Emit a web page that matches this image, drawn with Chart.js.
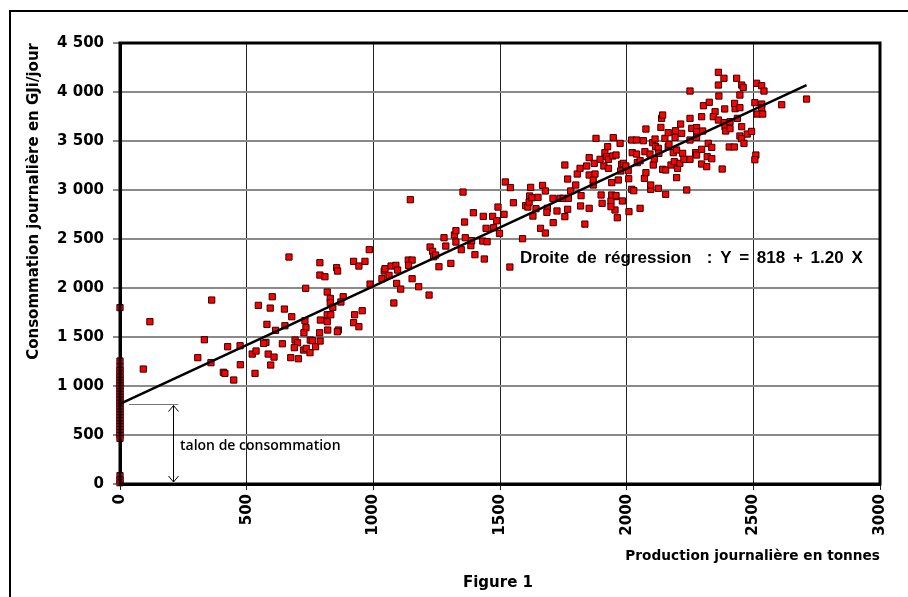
<!DOCTYPE html>
<html>
<head>
<meta charset="utf-8">
<script src="https://cdn.jsdelivr.net/npm/chart.js@4.4.0/dist/chart.umd.min.js"></script>
<style>
  html, body { margin: 0; padding: 0; background: #fff; overflow: hidden; }
  #frame { position: absolute; left: 9px; top: 10px; width: 1000px; height: 1000px;
           border-left: 2px solid #000; border-top: 2px solid #000; }
  #wrap { position: absolute; left: 0; top: 0; width: 908px; height: 597px; }
</style>
</head>
<body>
<div id="frame"></div>
<div id="wrap"><canvas id="chart" width="908" height="597"></canvas></div>
<script>
// Production journalière (tonnes) / consommation (GJ/jour)
const prodX = [
  // jours sans production
  0, 0, 0, 0, 0, 0, 0, 0, 0, 0, 0, 0, 0, 0, 0, 0, 0, 0, 0, 0, 0, 0, 0, 0, 0, 0, 0, 0, 0, 0,
  // 0 - 850 t
  118, 362, 92, 333, 307, 359, 425, 474, 408, 414, 449, 475, 522, 537, 533, 546, 601, 593, 580, 614,
  576, 567, 585, 608, 595, 649, 678, 651, 641, 674, 704, 733, 730, 734, 726, 691, 701, 688, 725, 735,
  750, 751, 759, 772, 790, 788, 791, 818, 818, 832, 818, 830, 830, 840, 820, 667,
  // 850 - 1750 t
  789, 789, 809, 855, 859, 922, 943, 967, 984, 881, 872, 862, 858, 926, 922, 943, 956, 987, 1034, 1043,
  1046, 1062, 1070, 1089, 1096, 1092, 1108, 1081, 1138, 1153, 1139, 1153, 1179, 1146, 1220, 1224, 1234, 1238, 1246, 1259,
  1279, 1286, 1306, 1320, 1326, 1326, 1347, 1363, 1360, 1395, 1354, 1385, 1388, 1401, 1438, 1434, 1445, 1432, 1449, 1471,
  1475, 1487, 1492, 1498, 1516, 1521, 1541, 1553, 1539, 1589, 1601, 1610, 1621, 1617, 1615, 1626, 1630, 1642, 1650, 1660,
  1679, 1668, 1679, 1687, 1685, 1709, 1710, 1725, 1737,
  // 1750 - 2250 t
  1756, 1767, 1779, 1756, 1767, 1750, 1770, 1799, 1805, 1816, 1820, 1818, 1835, 1852, 1842, 1852, 1872, 1868, 1879,
  1852, 1868, 1875, 1895, 1899, 1903, 1910, 1914, 1921, 1925, 1928, 1928, 1941, 1947, 1945, 1958, 1955, 1967, 1974, 1980,
  1983, 1976, 1963, 1954, 1938, 1938, 1941, 1958, 1987, 1997, 2006, 2008, 2009, 2020, 2022, 2020, 2028, 2039, 2039, 2042,
  2053, 2053, 2066, 2070, 2072, 2076, 2076, 2092, 2095, 2095, 2102, 2105, 2109, 2112, 2114, 2125, 2125, 2127, 2138, 2142,
  2135, 2142, 2151, 2154, 2154, 2164, 2164, 2167, 2175, 2184, 2188, 2191, 2193, 2197, 2197, 2201, 2213, 2210, 2217, 2221,
  2226, 2237,
  // 2250 t et plus
  2250, 2250, 2257, 2276, 2276, 2300, 2276, 2250, 2250, 2272, 2276, 2296, 2296, 2316, 2322, 2318, 2336, 2336, 2303, 2326,
  2296, 2349, 2342, 2362, 2385, 2388, 2391, 2408, 2408, 2364, 2362, 2362, 2384, 2387, 2428, 2426, 2447, 2447, 2454, 2460,
  2434, 2437, 2454, 2447, 2454, 2463, 2476, 2493, 2405, 2425, 2377, 2506, 2533, 2533, 2515, 2537, 2513, 2533, 2542, 2510,
  2506, 2612, 2710
];
const consoY = [
  1800, 1255, 1197, 1160, 1125, 1090, 1060, 1030, 1000, 975, 945, 915, 885, 855, 825, 795, 765, 735, 705, 675,
  645, 615, 585, 555, 525, 495, 465, 85, 40, 13,
  1656, 1877, 1173, 1472, 1289, 1238, 1401, 1411, 1140, 1129, 1061, 1217, 1326, 1357, 1129, 1823, 1911, 1795, 1629, 1568,
  1445, 1435, 1326, 1295, 1214, 1785, 1707, 1615, 1431, 1289, 1278, 1997, 1666, 1595, 1543, 1469, 1441, 1391, 1367, 1384,
  1340, 1469, 1462, 1401, 1459, 1543, 1673, 1656, 1727, 1727, 1959, 1894, 1850, 1803, 1571, 2316,
  2258, 2132, 2115, 2207, 2173, 2272, 2224, 2272, 2391, 1911, 1857, 1571, 1554, 1727, 1646, 1605, 1768, 2040, 2095, 2173,
  2197, 2129, 2224, 2231, 2183, 2047, 1989, 1847, 2285, 2285, 2231, 2095, 2013, 2901, 1928, 2418, 2374, 2319, 2336, 2217,
  2513, 2428, 2251, 2541, 2585, 2469, 2391, 2513, 2673, 2768, 2979, 2432, 2483, 2340, 2296, 2731, 2609, 2479, 2472, 2731,
  2615, 2686, 2826, 2558, 2752, 3082, 3024, 2870, 2214, 2503, 2840, 2826, 3027, 2939, 2877, 2921, 2734, 2809, 2925, 2609,
  2561, 3047, 2990, 2813, 2772, 2915, 2667, 2786, 2915,
  3255, 3112, 2990, 2728, 2803, 2915, 2915, 3051, 3163, 3221, 2942, 2837, 2652, 2813, 3245, 3330, 3272, 3051, 3527,
  3153, 3102, 3163, 3313, 2949, 2864, 3245, 3381, 3340, 3442, 3313, 3221, 3075, 3534, 3347, 3357, 2932, 3102, 3476, 3262,
  2888, 3194, 2717, 2796, 2888, 2830, 2949, 2942, 3272, 3245, 3197, 3115, 2779, 3510, 3381, 3007, 2993, 3510, 3367, 3279,
  3299, 2813, 3503, 3119, 3391, 3622, 3177, 3367, 3007, 3051, 3483, 3255, 3316, 3520, 3442, 3425, 3017, 3374, 3731, 3765,
  3639, 3211, 3527, 3204, 2956, 3442, 3585, 3466, 3255, 3381, 3289, 3537, 3605, 3408, 3126, 3221, 3673, 3272, 3578, 3374,
  3313, 3000,
  4010, 3731, 3629, 3636, 3595, 3602, 3537, 3510, 3313, 3381, 3357, 3415, 3265, 3238, 3476, 3340, 3435, 3319, 3860, 3895,
  3748, 3799, 3748, 3714, 3687, 3646, 3602, 3697, 3626, 3959, 4071, 4201, 4140, 3827, 3830, 3884, 3840, 3969, 4071, 4047,
  4140, 3731, 3646, 3551, 3524, 3476, 3571, 3598, 3439, 3439, 3214, 3891, 3877, 3840, 3775, 3775, 4089, 4065, 4010, 3357,
  3309, 3870, 3928
];

// Droite de régression Y = 818 + 1.20 X (extrémités tracées)
const regX = [0, 2710];
const regY = [818, 4070];

const talonValue = 818;
const xTicks = [0, 500, 1000, 1500, 2000, 2500, 3000];
const yTicks = [0, 500, 1000, 1500, 2000, 2500, 3000, 3500, 4000, 4500];

const FONT = "'DejaVu Sans', sans-serif";

const fmtSpace = (v) => {
  if (v < 1000) return String(v);
  return Math.floor(v / 1000) + " " + String(v % 1000).padStart(3, "0");
};

const points = prodX.map((x, i) => ({ x, y: consoY[i] }));
const regPoints = regX.map((x, i) => ({ x, y: regY[i] }));

const decorPlugin = {
  id: "decor",
  afterDraw(chart) {
    const { ctx, chartArea: a, scales } = chart;
    const xs = scales.x, ys = scales.y;
    ctx.save();

    // cadre épais du graphique
    ctx.strokeStyle = "#000";
    ctx.lineWidth = 3;
    ctx.strokeRect(a.left, a.top, a.right - a.left, a.bottom - a.top);

    // talon de consommation
    const yT = Math.round(ys.getPixelForValue(talonValue)) + 0.5;
    const y0 = ys.getPixelForValue(0);
    ctx.strokeStyle = "#777";
    ctx.lineWidth = 1;
    ctx.beginPath();
    ctx.moveTo(xs.getPixelForValue(36), yT);
    ctx.lineTo(xs.getPixelForValue(230), yT);
    ctx.stroke();

    const xa = Math.round(xs.getPixelForValue(209)) + 0.5;
    ctx.strokeStyle = "#000";
    ctx.beginPath();
    ctx.moveTo(xa, yT + 1);
    ctx.lineTo(xa, y0 - 2);
    ctx.moveTo(xa - 5, yT + 7);
    ctx.lineTo(xa, yT + 1);
    ctx.lineTo(xa + 5, yT + 7);
    ctx.moveTo(xa - 5, y0 - 8);
    ctx.lineTo(xa, y0 - 2);
    ctx.lineTo(xa + 5, y0 - 8);
    ctx.stroke();

    ctx.fillStyle = "#000";
    ctx.textBaseline = "middle";
    ctx.textAlign = "left";
    ctx.font = "600 14px 'Open Sans', sans-serif";
    ctx.fillText("talon de consommation", 180, 446);

    ctx.font = "bold 17px 'Liberation Sans', Arial, sans-serif";
    if ("wordSpacing" in ctx) ctx.wordSpacing = "3px";
    ctx.fillText("Droite de régression  : Y = 818 + 1.20 X", 520, 258);
    if ("wordSpacing" in ctx) ctx.wordSpacing = "0px";

    ctx.textAlign = "center";
    ctx.font = "bold 15px " + FONT;
    ctx.fillText("Figure 1", 498, 583);
    ctx.restore();
  }
};

new Chart(document.getElementById("chart"), {
  type: "scatter",
  data: {
    datasets: [
      {
        type: "line",
        label: "Régression",
        data: regPoints,
        borderColor: "#000",
        borderWidth: 2.5,
        pointRadius: 0,
        fill: false,
        order: 0
      },
      {
        label: "Consommation",
        data: points,
        pointStyle: "rect",
        pointRadius: 4.4,
        backgroundColor: "#ff0000",
        borderColor: "#300000",
        borderWidth: 1,
        clip: false,
        order: 1
      }
    ]
  },
  options: {
    responsive: false,
    animation: false,
    devicePixelRatio: 1,
    layout: { padding: { left: 22, top: 43, right: 28, bottom: 30 } },
    plugins: {
      legend: { display: false },
      tooltip: { enabled: false }
    },
    scales: {
      x: {
        type: "linear",
        min: 0,
        max: 3000,
        afterBuildTicks: (s) => { s.ticks = xTicks.map((v) => ({ value: v })); },
        afterFit: (s) => { s.height = 83; },
        ticks: {
          autoSkip: false,
          minRotation: 90,
          maxRotation: 90,
          padding: 4,
          color: "#000",
          font: { family: FONT, size: 15, weight: "bold" },
          callback: (v) => String(v)
        },
        grid: { color: "#222", lineWidth: 1, tickLength: 6 },
        border: { display: true, color: "#000", width: 3 },
        title: {
          display: true,
          text: "Production journalière en tonnes",
          align: "end",
          color: "#000",
          font: { family: FONT, size: 13.7, weight: "bold" },
          padding: { top: 0, bottom: 2 }
        }
      },
      y: {
        min: 0,
        max: 4500,
        afterBuildTicks: (s) => { s.ticks = yTicks.map((v) => ({ value: v })); },
        afterFit: (s) => { s.width = 98; },
        ticks: {
          padding: 9,
          color: "#000",
          font: { family: FONT, size: 15, weight: "bold" },
          callback: (v) => fmtSpace(v)
        },
        grid: { color: "#8a8a8a", lineWidth: 2, tickLength: 7 },
        border: { display: true, color: "#000", width: 3 },
        title: {
          display: true,
          text: "Consommation journalière en GJi/jour",
          align: "end",
          color: "#000",
          font: { family: FONT, size: 15, weight: "bold" },
          padding: 3
        }
      }
    }
  },
  plugins: [decorPlugin]
});
</script>
</body>
</html>
